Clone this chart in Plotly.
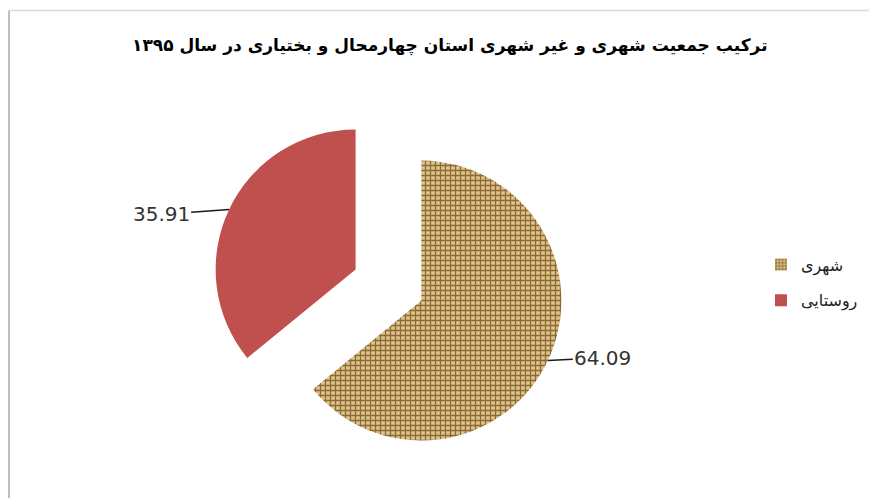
import math
import plotly.graph_objects as go

# ---- data ----
labels = ["شهری", "روستایی"]
values = [64.09, 35.91]
value_text = ["64.09", "35.91"]
title_text = "ترکیب جمعیت شهری و غیر شهری استان چهارمحال و بختیاری در سال ۱۳۹۵"

# ---- layout constants (figure sits 8px in from page corner) ----
W, H = 869, 490
pull = 0.26
dom_x = [0.2349, 0.6408]
dom_y = [0.0747, 0.7947]

slice_colors = ["#D6B87E", "#C0504D"]
pat_shape = ["+", ""]
pat_fg = ["#8C6A34", "#C0504D"]
pat_bg = ["#DEC38C", "#C0504D"]

fig = go.Figure()
fig.add_trace(go.Pie(
    labels=labels,
    values=values,
    sort=False,
    direction="clockwise",
    rotation=0,
    pull=[pull, pull],
    textinfo="none",
    hoverinfo="label+value",
    showlegend=False,
    domain=dict(x=dom_x, y=dom_y),
    marker=dict(
        colors=slice_colors,
        line=dict(width=0),
        pattern=dict(
            shape=pat_shape,
            fgcolor=pat_fg,
            bgcolor=pat_bg,
            size=5,
            solidity=0.45,
            fillmode="replace",
        ),
    ),
))

# legend entries (spaced like the original)
for i, lab in enumerate(labels):
    fig.add_trace(go.Bar(
        x=[None], y=[None], name=lab, legendgroup=str(i), showlegend=True,
        marker=dict(color=slice_colors[i], line=dict(width=0),
                    pattern=dict(shape=pat_shape[i], fgcolor=pat_fg[i],
                                 bgcolor=pat_bg[i], size=4, solidity=0.45,
                                 fillmode="replace")),
        hoverinfo="skip",
    ))

# geometry of the pie (mirrors plotly's own sizing) to place leader-line labels
aw = W * (dom_x[1] - dom_x[0])
ah = H * (dom_y[1] - dom_y[0])
r = min(aw, ah) / (2 + 2 * pull)
cx = W * (dom_x[0] + dom_x[1]) / 2
cy = H * (1 - dom_y[0]) - ah / 2

total = sum(values)
offsets = {0: (55, -3), 1: (-68, 5)}
cum = 0.0
annotations = []
for i, v in enumerate(values):
    mid = (cum + v / 2) / total * 2 * math.pi
    cum += v
    dx, dy = math.sin(mid), -math.cos(mid)
    px = cx + pull * r * dx + r * dx
    py = cy + pull * r * dy + r * dy
    ax, ay = offsets[i]
    annotations.append(dict(
        x=px / W, y=1 - py / H, xref="paper", yref="paper",
        text=value_text[i], showarrow=True, arrowhead=0, arrowwidth=1.6,
        arrowcolor="#1a1a1a", ax=ax, ay=ay,
        font=dict(family="DejaVu Sans", size=20, color="#333333"),
    ))

annotations.append(dict(
    x=442 / W, y=1 - 37 / H, xref="paper", yref="paper", showarrow=False,
    xanchor="center", yanchor="middle",
    text="<b>" + title_text + "</b>",
    font=dict(family="DejaVu Sans", size=17, color="#000000"),
))

fig.update_layout(
    width=W, height=H,
    margin=dict(l=0, r=0, t=0, b=0),
    paper_bgcolor="white",
    plot_bgcolor="white",
    xaxis=dict(visible=False),
    yaxis=dict(visible=False),
    annotations=annotations,
    showlegend=True,
    legend=dict(
        x=0.8665, y=1 - 274.5 / H, xanchor="left", yanchor="middle",
        font=dict(family="DejaVu Sans", size=16, color="#222222"),
        bgcolor="rgba(0,0,0,0)",
        traceorder="grouped", tracegroupgap=12,
    ),
    shapes=[
        dict(type="line", xref="paper", yref="paper",
             x0=1 / W, x1=1 / W, y0=0, y1=1 - 2 / H,
             line=dict(color="#BDBDBD", width=2)),
        dict(type="line", xref="paper", yref="paper",
             x0=0, x1=1, y0=1 - 2.5 / H, y1=1 - 2.5 / H,
             line=dict(color="#DADADA", width=1.5)),
    ],
)

fig.write_html("out.html")
